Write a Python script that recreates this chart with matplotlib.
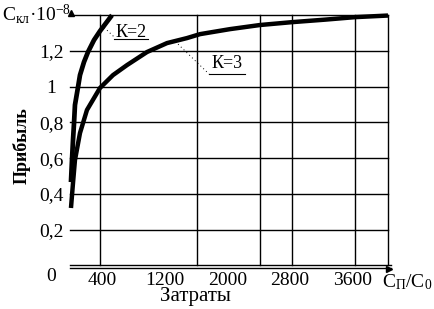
import matplotlib
matplotlib.use('Agg')
import matplotlib.pyplot as plt

plt.rcParams['font.family'] = ['Liberation Serif', 'DejaVu Serif']
plt.rcParams['mathtext.fontset'] = 'custom'
plt.rcParams['mathtext.rm'] = 'Liberation Serif'
plt.rcParams['mathtext.it'] = 'Liberation Serif'
plt.rcParams['mathtext.bf'] = 'Liberation Serif:bold'

# curves (x = Сп/С0, y = profit * 1e-8)
k2_x = [6, 19, 32, 45, 57, 96, 121, 172, 223, 300, 376, 453, 529]
k2_y = [0.466, 0.589, 0.701, 0.796, 0.897, 0.997, 1.064, 1.137, 1.193, 1.260, 1.310, 1.355, 1.399]
k3_x = [6, 32, 57, 121, 210, 376, 542, 721, 976, 1231, 1486, 1652, 2034, 2417, 2825, 3246,
        3629, 4050]
k3_y = [0.321, 0.461, 0.589, 0.740, 0.869, 0.992, 1.064, 1.120, 1.193, 1.243, 1.271, 1.293,
        1.321, 1.344, 1.360, 1.374, 1.388, 1.397]

x_ticks = [400, 1200, 2000, 2800, 3600]
y_ticks = [0.2, 0.4, 0.6, 0.8, 1.0, 1.2]
y_labels = ['0,2', '0,4', '0,6', '0,8', '1', '1,2']
x_grid = [380, 1610, 2420, 2830, 3630, 4050]
y_grid = [0.2, 0.4, 0.6, 0.8, 1.0, 1.2, 1.4]
x_max = 4050

fig = plt.figure(figsize=(4.35, 3.09), dpi=100)
ax = fig.add_axes([70.5 / 435, 1 - 269 / 309, (388 - 70.5) / 435, (269 - 15) / 309])
ax.set_xlim(0, x_max)
ax.set_ylim(-0.02, 1.4)
for s in ax.spines.values():
    s.set_visible(False)

for gx in x_grid:
    ax.plot([gx, gx], [0, 1.4], color='black', lw=1.0, clip_on=False)
for gy in y_grid:
    ax.plot([0, x_max], [gy, gy], color='black', lw=1.0, clip_on=False)
# double baseline and arrows
ax.plot([0, x_max + 40], [0, 0], color='black', lw=1.0, clip_on=False)
ax.plot([0, x_max + 40], [-0.014, -0.014], color='black', lw=1.0, clip_on=False)
ax.plot([1.003], [0.0], marker='>', color='black', ms=5, transform=ax.transAxes, clip_on=False)
ax.plot([0.002], [1.007], marker='^', color='black', ms=5, transform=ax.transAxes, clip_on=False)

ax.plot(k2_x, k2_y, color='black', lw=3.4, solid_capstyle='butt', solid_joinstyle='round',
        clip_on=False)
ax.plot(k3_x, k3_y, color='black', lw=3.2, solid_capstyle='butt', solid_joinstyle='round',
        clip_on=False)

# curve labels with leaders
ax.text(772, 1.304, 'К=2', fontsize=13, ha='center', va='center')
ax.plot([560, 990], [1.268, 1.268], color='black', lw=0.8)
ax.plot([430, 550], [1.33, 1.28], color='black', lw=0.7, ls=(0, (1, 3)))
ax.text(1996, 1.131, 'К=3', fontsize=13, ha='center', va='center')
ax.plot([1767, 2226], [1.07, 1.07], color='black', lw=0.8)
ax.plot([1372, 1767], [1.237, 1.07], color='black', lw=0.7, ls=(0, (1, 3)))

ax.set_xticks(x_ticks)
ax.set_xticklabels([str(v) for v in x_ticks], fontsize=14)
ax.set_yticks(y_ticks)
ax.set_yticklabels(y_labels, fontsize=14, ha='center')
ax.tick_params(axis='both', length=0)
ax.tick_params(axis='y', pad=14)
ax.tick_params(axis='x', pad=2.5)
ax.text(-0.062, -0.03, '0', transform=ax.transAxes, fontsize=14, ha='center', va='center')

fig.text(22 / 435, 1 - 146 / 309, 'Прибыль', rotation=90, fontsize=13, fontweight='bold',
         ha='center', va='center')
fig.text(195 / 435, 1 - 297 / 309, 'Затраты', fontsize=15, ha='center', va='center')
fig.text(2 / 435, 1 - 20 / 309, 'С$_{\\mathrm{кл}}$·10$^{\\mathrm{-8}}$', fontsize=14,
         ha='left', va='baseline')
fig.text(382 / 435, 1 - 287 / 309, 'С$_{\\mathrm{П}}$/С$_{\\mathrm{0}}$', fontsize=14,
         ha='left', va='baseline')

fig.savefig('out.png', dpi=100)
